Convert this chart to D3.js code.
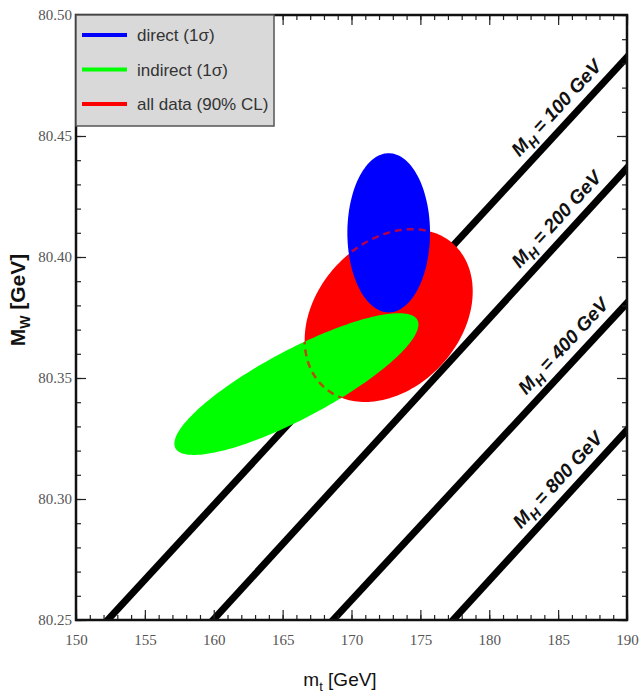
<!DOCTYPE html>
<html>
<head>
<meta charset="utf-8">
<script src="https://cdn.jsdelivr.net/npm/d3@7"></script>
<style>
  body { margin: 0; background: #fff; }
</style>
</head>
<body>
<div id="chart"></div>
<script>
/******************************************************
 * W mass vs top mass, with Higgs mass bands
*******************************************************/

//! DATA
const mtDomain = [150, 190];
const mwDomain = [80.25, 80.50];
const mtTicks = [150, 155, 160, 165, 170, 175, 180, 185, 190];
const mwTicks = [80.25, 80.30, 80.35, 80.40, 80.45, 80.50];

// contours: centre, half extent along each axis, correlation
const fitNames = ["direct (1\u03c3)", "indirect (1\u03c3)", "all data (90% CL)"];
const fitMt = [172.7, 166.0, 172.7];
const fitMw = [80.410, 80.3475, 80.3758];
const fitMtHalf = [3.0, 8.86, 6.1];
const fitMwHalf = [0.0329, 0.0293, 0.0357];
const fitCorr = [0.0, 0.84, 0.28];
const fitColors = ["#0000ff", "#00ff00", "#ff0000"];

// SM lines for fixed M_H: where they enter at the bottom and leave at the right
const higgsMass = [100, 200, 400, 800];
const higgsMtAtBottom = [152.3, 159.95, 168.66, 177.37];
const higgsMwAtRight = [80.4826, 80.4368, 80.381, 80.3285];
const higgsLabelMt = [185.8, 185.8, 186.3, 185.9];

//! CONSTANTS
const WIDTH = 640;
const HEIGHT = 699;
const PLOT = { left: 76, right: 627, top: 15, bottom: 620 };

const x = d3.scaleLinear().domain(mtDomain).range([PLOT.left, PLOT.right]);
const y = d3.scaleLinear().domain(mwDomain).range([PLOT.bottom, PLOT.top]);

const svg = d3.select("#chart").append("svg")
    .attr("width", WIDTH)
    .attr("height", HEIGHT)
    .style("font-family", "'Liberation Sans', Arial, sans-serif");

svg.append("rect").attr("width", WIDTH).attr("height", HEIGHT).attr("fill", "#fff");

const defs = svg.append("defs");
defs.append("clipPath").attr("id", "plotClip")
    .append("rect")
    .attr("x", PLOT.left).attr("y", PLOT.top)
    .attr("width", PLOT.right - PLOT.left).attr("height", PLOT.bottom - PLOT.top);

/******************************************************
 * ellipse outline in data units -> path
*******************************************************/
function ellipsePath(i) {
    const pts = d3.range(0, 361, 2).map(deg => {
        const t = deg * Math.PI / 180;
        const r = fitCorr[i];
        return [
            fitMt[i] + fitMtHalf[i] * Math.cos(t),
            fitMw[i] + fitMwHalf[i] * (r * Math.cos(t) + Math.sqrt(1 - r * r) * Math.sin(t))
        ];
    });
    return d3.line().x(d => x(d[0])).y(d => y(d[1])).curve(d3.curveLinearClosed)(pts);
}

//! Higgs lines (under the contours)
const lines = svg.append("g").attr("clip-path", "url(#plotClip)");
higgsMass.forEach((m, i) => {
    const x1 = higgsMtAtBottom[i], y1 = mwDomain[0];
    const x2 = mtDomain[1], y2 = higgsMwAtRight[i];
    const ext = 0.05;
    lines.append("line")
        .attr("x1", x(x1 - (x2 - x1) * ext)).attr("y1", y(y1 - (y2 - y1) * ext))
        .attr("x2", x(x2 + (x2 - x1) * ext)).attr("y2", y(y2 + (y2 - y1) * ext))
        .attr("stroke", "#000")
        .attr("stroke-width", 7);
});

//! contours: red first, then green, then blue
const order = [2, 1, 0];
order.forEach(i => {
    svg.append("path")
        .attr("d", ellipsePath(i))
        .attr("fill", fitColors[i]);
});

// dashed outline of the combined fit where it is hidden
const hidden = defs.append("clipPath").attr("id", "hiddenClip");
[0, 1].forEach(i => hidden.append("path").attr("d", ellipsePath(i)));
svg.append("path")
    .attr("d", ellipsePath(2))
    .attr("fill", "none")
    .attr("stroke", "#ff0000")
    .attr("stroke-opacity", 0.7)
    .attr("stroke-width", 2.5)
    .attr("stroke-dasharray", "7,5")
    .attr("clip-path", "url(#hiddenClip)");

//! Higgs labels
higgsMass.forEach((m, i) => {
    const x1 = higgsMtAtBottom[i], y1 = mwDomain[0];
    const x2 = mtDomain[1], y2 = higgsMwAtRight[i];
    const px1 = x(x1), py1 = y(y1), px2 = x(x2), py2 = y(y2);
    const angle = Math.atan2(py2 - py1, px2 - px1) * 180 / Math.PI;
    const mt = higgsLabelMt[i];
    const mw = y1 + (mt - x1) / (x2 - x1) * (y2 - y1);
    const t = svg.append("text")
        .attr("transform", `translate(${x(mt)},${y(mw)}) rotate(${angle})`)
        .attr("y", -11)
        .attr("text-anchor", "middle")
        .attr("font-size", 19)
        .attr("font-weight", "bold")
        .attr("font-style", "italic")
        .attr("fill", "#111");
    t.append("tspan").text("M");
    t.append("tspan").attr("dy", 5).attr("font-size", 14).text("H");
    t.append("tspan").attr("dy", -5).text(` = ${m} GeV`);
});

//! Axes
function styleAxis(g) {
    g.select(".domain").remove();
    g.selectAll(".tick line").attr("stroke", "#222").attr("stroke-width", 1.2);
    g.selectAll(".tick text")
        .attr("font-family", "'Liberation Serif', 'Times New Roman', serif")
        .attr("font-size", 15)
        .attr("fill", "#555");
}

const minorMt = d3.range(150, 190.01, 1);
const minorMw = d3.range(0, 26).map(k => 80.25 + k * 0.01);

// bottom
svg.append("g").attr("transform", `translate(0,${PLOT.bottom})`)
    .call(d3.axisBottom(x).tickValues(minorMt).tickSize(-5).tickFormat(""))
    .call(styleAxis);
svg.append("g").attr("transform", `translate(0,${PLOT.bottom})`)
    .call(d3.axisBottom(x).tickValues(mtTicks).tickSize(-10).tickPadding(14).tickFormat(d3.format("d")))
    .call(styleAxis);
// top
svg.append("g").attr("transform", `translate(0,${PLOT.top})`)
    .call(d3.axisTop(x).tickValues(minorMt).tickSize(-5).tickFormat(""))
    .call(styleAxis);
svg.append("g").attr("transform", `translate(0,${PLOT.top})`)
    .call(d3.axisTop(x).tickValues(mtTicks).tickSize(-10).tickFormat(""))
    .call(styleAxis);
// left
svg.append("g").attr("transform", `translate(${PLOT.left},0)`)
    .call(d3.axisLeft(y).tickValues(minorMw).tickSize(-5).tickFormat(""))
    .call(styleAxis);
svg.append("g").attr("transform", `translate(${PLOT.left},0)`)
    .call(d3.axisLeft(y).tickValues(mwTicks).tickSize(-10).tickPadding(4).tickFormat(d3.format(".2f")))
    .call(styleAxis);
// right
svg.append("g").attr("transform", `translate(${PLOT.right},0)`)
    .call(d3.axisRight(y).tickValues(minorMw).tickSize(-5).tickFormat(""))
    .call(styleAxis);
svg.append("g").attr("transform", `translate(${PLOT.right},0)`)
    .call(d3.axisRight(y).tickValues(mwTicks).tickSize(-10).tickFormat(""))
    .call(styleAxis);

// frame
svg.append("rect")
    .attr("x", PLOT.left).attr("y", PLOT.top)
    .attr("width", PLOT.right - PLOT.left).attr("height", PLOT.bottom - PLOT.top)
    .attr("fill", "none")
    .attr("stroke", "#111")
    .attr("stroke-width", 2.5);

//! Legend
const legend = svg.append("g");
legend.append("rect")
    .attr("x", PLOT.left).attr("y", PLOT.top)
    .attr("width", 198).attr("height", 111)
    .attr("fill", "#d9d9d9")
    .attr("stroke", "#555")
    .attr("stroke-width", 1.5);
fitNames.forEach((name, i) => {
    const ly = 35 + i * 34.5;
    legend.append("line")
        .attr("x1", 82).attr("x2", 127)
        .attr("y1", ly).attr("y2", ly)
        .attr("stroke", fitColors[i])
        .attr("stroke-width", 4);
    legend.append("text")
        .attr("x", 137).attr("y", ly + 6)
        .attr("font-size", 17)
        .attr("fill", "#333")
        .text(name);
});

//! Axis titles
const xt = svg.append("text")
    .attr("x", 340).attr("y", 686)
    .attr("text-anchor", "middle")
    .attr("font-size", 19)
    .attr("fill", "#111");
xt.append("tspan").text("m");
xt.append("tspan").attr("dy", 5).attr("font-size", 13).text("t");
xt.append("tspan").attr("dy", -5).text(" [GeV]");

const yt = svg.append("text")
    .attr("transform", "translate(25,300) rotate(-90)")
    .attr("text-anchor", "middle")
    .attr("font-size", 21)
    .attr("font-weight", "bold")
    .attr("fill", "#111");
yt.append("tspan").text("M");
yt.append("tspan").attr("dy", 5).attr("font-size", 14).text("W");
yt.append("tspan").attr("dy", -5).text(" [GeV]");
</script>
</body>
</html>
